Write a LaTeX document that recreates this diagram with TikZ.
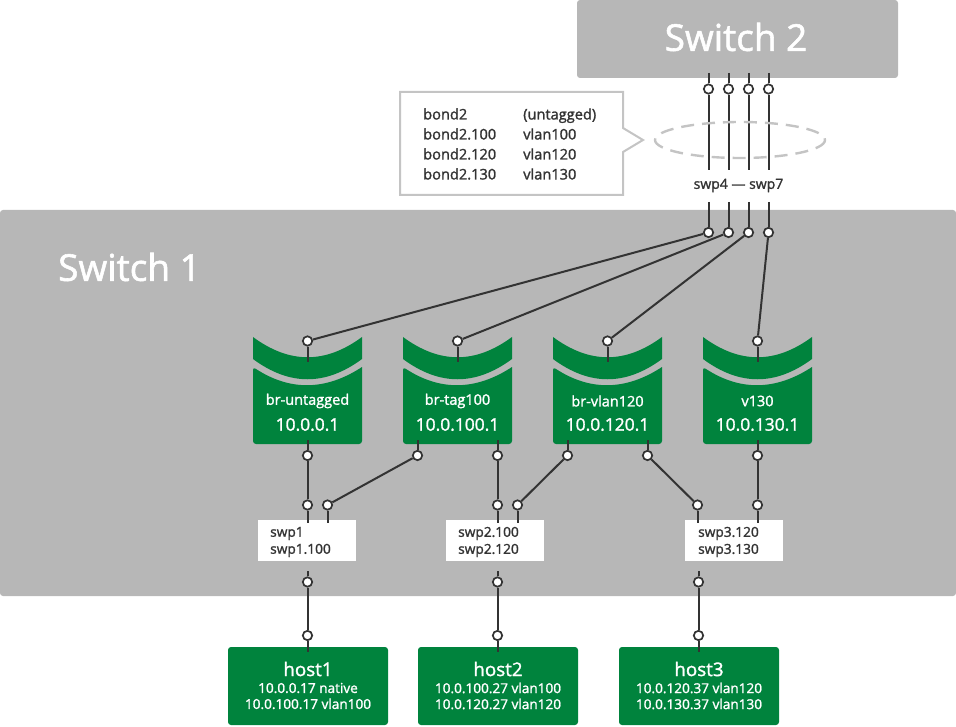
\documentclass[tikz,border=0pt]{standalone}
\usepackage{fontspec}
\setmainfont{Open Sans}[UprightFeatures={FakeBold=1.5}]
\definecolor{paper}{HTML}{FFFFFF}
\definecolor{ink}{HTML}{333333}
\definecolor{chassis}{HTML}{B7B7B7}
\definecolor{leaf}{HTML}{00833D}
\definecolor{hairline}{HTML}{C4C4C4}
\tikzset{
  wire/.style={draw=ink,line width=2pt},
  port/.style={circle,draw=ink,fill=paper,line width=1.7pt,
               minimum size=9.4pt,inner sep=0pt},
  chassisbox/.style={fill=chassis,rounded corners=3pt},
  ifacebox/.style={fill=paper,draw=none,minimum width=98pt,minimum height=41pt,inner sep=0pt},
  hostbox/.style={fill=leaf,rounded corners=3pt,minimum width=160pt,minimum height=78pt,inner sep=0pt},
  every node/.style={text=ink}
}
\newcommand{\titlefont}{\fontsize{37}{40}\selectfont}
\newcommand{\ipfont}{\fontsize{17.4}{20}\selectfont}
\newcommand{\namefont}{\fontsize{14.5}{16}\selectfont}
\newcommand{\bodyfont}{\fontsize{13.7}{17}\selectfont}
\newcommand{\calloutfont}{\fontsize{14.6}{20}\selectfont}
\newcommand{\hostfont}{\fontsize{13.6}{16}\selectfont}
\newcommand{\hostnamefont}{\fontsize{18.8}{20}\selectfont}
% bridge: name, centre x, label, address
\newcommand{\bridgeicon}[4]{%
  \begin{scope}[xshift=#2pt]
    \fill[leaf] (-54.5,337) .. controls (-18,364) and (18,364) .. (54.5,337)
      -- (54.5,359) .. controls (18,386) and (-18,386) .. (-54.5,359) -- cycle;
    \fill[leaf] (-54.5,367) .. controls (-18,391) and (18,391) .. (54.5,367)
      [rounded corners=3pt] -- (54.5,444) -- (-54.5,444) -- cycle;
    \node[font=\namefont,text=paper] (#1label) at (0,401) {#3};
    \node[font=\ipfont,text=paper] (#1ip) at (0,424.5) {#4};
    \node[port] (#1top) at (0,341) {};
    \coordinate (#1stub) at (0,362);
  \end{scope}
  \draw[wire] (#1top)--(#1stub);
}
% host: name, centre x, title, two address lines
\newcommand{\hostbox}[5]{%
  \node[hostbox] (#1) at (#2,686) {};
  \node[font=\hostnamefont,text=paper] (#1name) at (#2,669) {#3};
  \node[font=\hostfont,text=paper,align=center] (#1addr) at (#2,696) {#4\\#5};
}
% interface box: name, centre x, text x, two lines
\newcommand{\ifacerow}[5]{%
  \node[ifacebox] (#1) at (#2,540.5) {};
  \node[anchor=west,font=\bodyfont,align=left] (#1text) at (#3,542) {#4\\#5};
}

\begin{document}
\begin{tikzpicture}[x=1pt,y=-1pt]
  \useasboundingbox (0,0) rectangle (956,727);

  % ======================== CHASSIS ========================
  \path[chassisbox] (577,0) rectangle (898,78);
  \path[chassisbox] (0,210) rectangle (956,596);
  \node[font=\titlefont,text=paper] (switchtwo) at (736,37) {Switch 2};
  \node[font=\titlefont,text=paper] (switchone) at (129.5,267) {Switch 1};

  % Callout with the bond table
  \draw[hairline,fill=paper,line width=2pt] (400,92) -- (623,92) -- (623,128) -- (643,140)
    -- (623,152) -- (623,195) -- (400,195) -- cycle;
  \node[anchor=west,font=\calloutfont,align=left] (bondnames) at (419.7,144)
    {bond2\\bond2.100\\bond2.120\\bond2.130};
  \node[anchor=west,font=\calloutfont,align=left] (bondvlans) at (519.7,144)
    {(untagged)\\vlan100\\vlan120\\vlan130};

  % Bond links between the two switches
  \foreach \name/\x in {a/708.5,b/728.5,c/748.5,d/768.5}{
    \coordinate (\name up) at (\x,73);
    \coordinate (\name mid) at (\x,170);
    \coordinate (\name low) at (\x,202);
    \node[port] (\name upper) at (\x,89) {};
    \node[port] (\name lower) at (\x,232.5) {};
    \draw[wire] (\name up)--(\name upper);
    \draw[wire] (\name upper)--(\name mid);
    \draw[wire] (\name low)--(\name lower);
  }
  \draw[hairline,line width=2.4pt,dash pattern=on 13pt off 8pt] (740,140) ellipse (85 and 18);
  \node[font=\fontsize{14}{17}\selectfont] (bondports) at (738.5,185.5) {swp4 — swp7};

  % ======================== BRIDGES ========================
  \bridgeicon{untagged}{307.5}{br-untagged}{10.0.0.1}
  \bridgeicon{tagged}{457.5}{br-tag100}{10.0.100.1}
  \bridgeicon{vlanone}{607.5}{br-vlan120}{10.0.120.1}
  \bridgeicon{vlantwo}{757.5}{v130}{10.0.130.1}

  \draw[wire] (alower)--(untaggedtop);
  \draw[wire] (blower)--(taggedtop);
  \draw[wire] (clower)--(vlanonetop);
  \draw[wire] (dlower)--(vlantwotop);

  % ======================== INTERFACES ========================
  \ifacerow{sone}{307}{266.7}{swp1}{swp1.100}
  \ifacerow{stwo}{495}{454.7}{swp2.100}{swp2.120}
  \ifacerow{sthree}{734}{694.7}{swp3.120}{swp3.130}

  % bridge bottom port / interface port pairs
  \foreach \name/\xa/\xb in {p/307.5/307.5,q/417.5/327.5,r/497.5/497.5,s/567.5/517.5,t/647.5/697.5,u/757.5/757.5}{
    \coordinate (\name bridge) at (\xa,440);
    \coordinate (\name iface) at (\xb,523);
    \node[port] (\name high) at (\xa,455.5) {};
    \node[port] (\name low) at (\xb,505) {};
    \draw[wire] (\name bridge)--(\name high);
    \draw[wire] (\name high)--(\name low);
    \draw[wire] (\name low)--(\name iface);
  }

  % ======================== HOSTS ========================
  \hostbox{hostone}{308}{host1}{10.0.0.17 native}{10.0.100.17 vlan100}
  \hostbox{hosttwo}{498}{host2}{10.0.100.27 vlan100}{10.0.120.27 vlan120}
  \hostbox{hostthree}{699}{host3}{10.0.120.37 vlan120}{10.0.130.37 vlan130}

  \foreach \name/\x in {e/307.5,f/497.5,g/698.5}{
    \coordinate (\name start) at (\x,571);
    \coordinate (\name end) at (\x,652);
    \node[port] (\name upper) at (\x,582) {};
    \node[port] (\name lower) at (\x,635.5) {};
    \draw[wire] (\name start)--(\name upper);
    \draw[wire] (\name upper)--(\name lower);
    \draw[wire] (\name lower)--(\name end);
  }
\end{tikzpicture}
\end{document}
